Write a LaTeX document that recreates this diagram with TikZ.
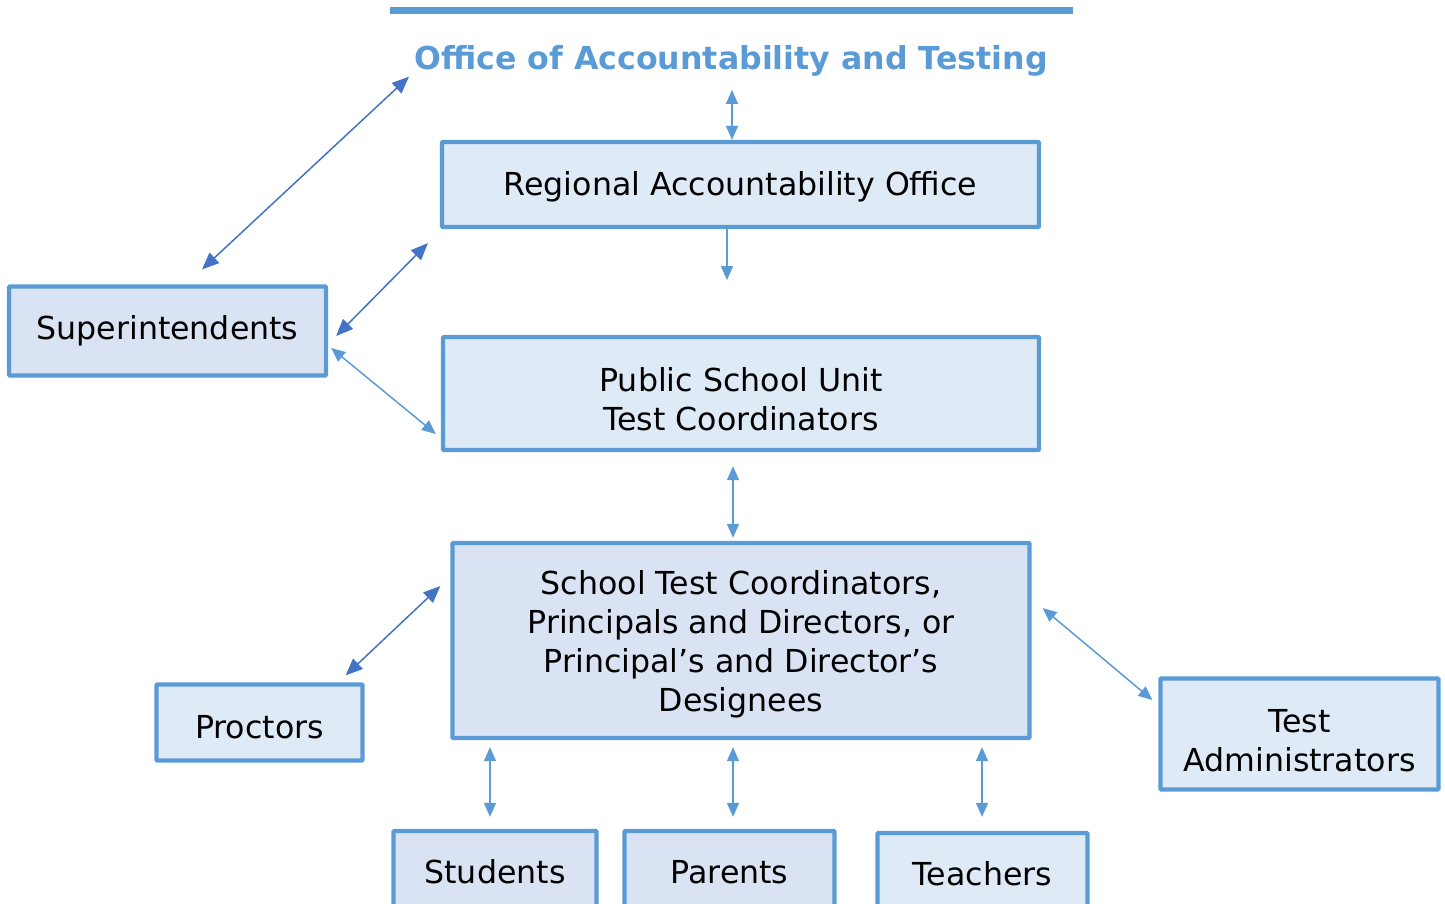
\documentclass[tikz,border=0pt]{standalone}
\usepackage{fontspec}
\setmainfont{DejaVu Sans}
\usetikzlibrary{arrows.meta,positioning,calc}
\definecolor{boxline}{HTML}{5B9BD5}
\definecolor{boxfill}{HTML}{DEEBF7}
\definecolor{boxfilldk}{HTML}{DAE3F3}
\definecolor{arrowdk}{HTML}{4472C4}
% invisible strut that pushes a box's text down
\newcommand{\topgap}[1]{\rule{0pt}{#1}}
\begin{document}
\begin{tikzpicture}[
    unit/.style={draw=boxline, line width=0.085cm, fill=boxfill, rounded corners=0.5pt,
      align=center, font=\fontsize{18}{22.1}\selectfont, inner sep=0pt},
    unitdk/.style={unit, fill=boxfilldk},
    lite/.style={boxline, line width=0.85pt, {Triangle[length=0.28cm,width=0.24cm]}-{Triangle[length=0.28cm,width=0.24cm]}},
    dark/.style={arrowdk, line width=0.85pt, {Triangle[length=0.34cm,width=0.28cm]}-{Triangle[length=0.34cm,width=0.28cm]}}
  ]
  \clip (0,0) rectangle (28.9,-18.06);
  % top rule and heading
  \draw[boxline, line width=0.14cm] (7.8,-0.2) -- (21.46,-0.2);
  \node[anchor=base, inner sep=0pt, text=boxline, font=\fontsize{18}{22}\selectfont\bfseries]
    (title) at (14.62,-1.38) {Office of Accountability and Testing};
  % boxes
  \node[unit, minimum width=11.94cm, minimum height=1.7cm] (regional) at (14.81,-3.69)
    {\topgap{16pt}Regional Accountability Office};
  \node[unit, minimum width=11.92cm, minimum height=2.26cm] (psu) at (14.82,-7.87)
    {\topgap{20.5pt}Public School Unit\\Test Coordinators};
  \node[unitdk, minimum width=11.54cm, minimum height=3.9cm] (school) at (14.82,-12.81)
    {\topgap{18.2pt}School Test Coordinators,\\Principals and Directors, or\\Principal’s and Director’s\\Designees};
  \node[unitdk, minimum width=6.34cm, minimum height=1.78cm] (sup) at (3.35,-6.62) {Superintendents};
  \node[unit, minimum width=4.12cm, minimum height=1.52cm] (proctors) at (5.19,-14.45)
    {\topgap{18.7pt}Proctors};
  \node[unit, minimum width=5.56cm, minimum height=2.22cm] (testadm) at (25.99,-14.68)
    {\topgap{21.1pt}Test\\Administrators};
  \node[unitdk, minimum width=4.06cm, minimum height=1.64cm] (students) at (9.9,-17.44) {Students};
  \node[unitdk, minimum width=4.2cm, minimum height=1.64cm] (parents) at (14.59,-17.44) {Parents};
  \node[unit, minimum width=4.2cm, minimum height=1.64cm] (teachers) at (19.65,-17.48) {Teachers};
  % connectors
  \draw[lite] ([xshift=-0.17cm]regional.north) -- ++(0,1.0);
  \draw[boxline, line width=0.85pt, -{Triangle[length=0.28cm,width=0.24cm]}]
    ([xshift=-0.27cm]regional.south) -- ++(0,-1.02);
  \draw[lite] ($(psu.south)+(-0.16,-0.28)$) -- ($(school.north)+(-0.16,0.06)$);
  \draw[dark] ($(sup.north)+(0.69,0.3)$) -- ($(title.south west)+(-0.1,-0.01)$);
  \draw[dark] ($(sup.east)+(0.16,-0.1)$) -- ($(regional.south west)+(-0.24,-0.28)$);
  \draw[lite] ($(sup.east)+(0.06,-0.34)$) -- ($(psu.west)+(-0.1,-0.81)$);
  \draw[dark] ($(proctors.north east)+(-0.38,0.14)$) -- ($(school.west)+(-0.2,1.09)$);
  \draw[lite] ($(school.east)+(0.22,0.65)$) -- ($(testadm.west)+(-0.12,0.68)$);
  \draw[lite] ($(school.south -| students.north)+(-0.1,-0.14)$) -- ($(students.north)+(-0.1,0.24)$);
  \draw[lite] ($(school.south -| parents.north)+(0.07,-0.14)$) -- ($(parents.north)+(0.07,0.24)$);
  \draw[lite] ($(school.south -| teachers.north)+(-0.01,-0.14)$) -- ($(teachers.north)+(-0.01,0.28)$);
\end{tikzpicture}
\end{document}
